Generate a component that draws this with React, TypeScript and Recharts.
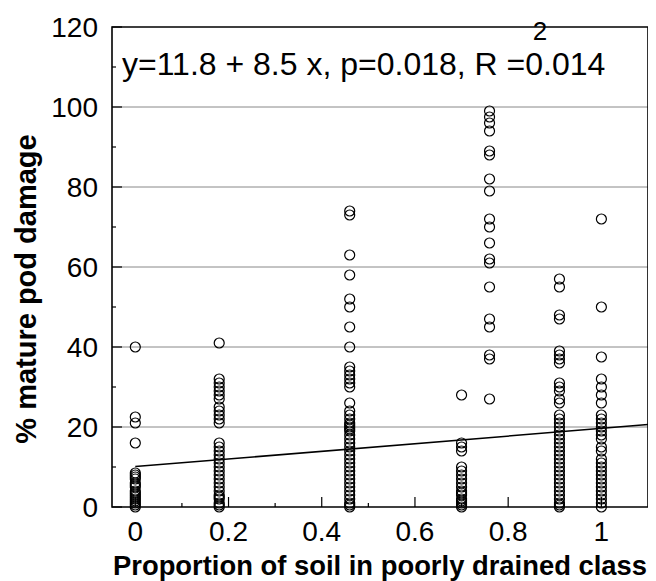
import {
  ScatterChart,
  Scatter,
  XAxis,
  YAxis,
  CartesianGrid,
  ReferenceArea,
} from "recharts";

// proportion of poorly drained soil for each sampled field group
const columnX = [0, 0.18, 0.46, 0.7, 0.76, 0.91, 1.0];

// % mature pod damage
const damageAt000 = [40, 22.5, 21, 16, 8.5, 8, 7.5, 7, 6, 5.5, 5, 4, 3.5, 3, 2.5, 2, 1.5, 1, 0.5, 0];
const damageAt018 = [41, 32, 31, 30, 29, 28, 27, 25, 24, 23, 22, 21, 16, 15, 14, 13, 12, 11, 10, 9, 8, 7, 6, 5, 4, 3, 2.5, 2, 1, 0.5, 0];
const damageAt046 = [74, 73, 63, 58, 52, 50, 45, 40, 35, 34, 33, 32, 31, 30, 26, 24, 23, 22, 21, 20.5, 20, 19.5, 19, 18, 17, 16, 15, 14, 13, 12, 11, 10, 9, 8, 7, 6, 5, 4, 3, 2, 1, 0.5, 0];
const damageAt070 = [28, 16, 15, 14, 10, 9, 8, 7, 6, 5, 4, 3.5, 3, 2, 1.5, 1, 0.5, 0];
const damageAt076 = [99, 97.5, 96, 94, 89, 88, 82, 79, 72, 70, 66, 62, 61, 55, 47, 45, 38, 37, 27];
const damageAt091 = [57, 55, 48, 47, 39, 38, 37, 36, 31, 30, 29, 27, 26, 23, 22, 21, 20, 19, 18, 17, 16, 15, 14, 13, 12, 11, 10, 9, 8, 7, 6, 5, 4, 3, 2, 1, 0.5, 0];
const damageAt100 = [72, 50, 37.5, 32, 30, 28, 26, 23, 22, 21, 20, 19, 18, 17, 15, 14, 12, 11, 10, 9, 8, 7, 6, 5, 4, 3, 2, 1, 0];

const columns = [damageAt000, damageAt018, damageAt046, damageAt070, damageAt076, damageAt091, damageAt100];

// fitted regression line, ends as drawn
const fitX = [0, 1.1];
const fitY = [10.1, 20.6];

const xTicks = [0, 0.1, 0.2, 0.3, 0.4, 0.5, 0.6, 0.7, 0.8, 0.9, 1];
const yTicks = [0, 10, 20, 30, 40, 50, 60, 70, 80, 90, 100, 110, 120];
const gridValues = [20, 40, 60, 80, 100];

const equation = "y=11.8 + 8.5 x, p=0.018, R =0.014";

const FONT = "'Liberation Sans', Arial, Helvetica, sans-serif";

const points = columns.flatMap((vals, i) => vals.map((y) => ({ x: columnX[i], y })));
const fitLine = fitX.map((x, i) => ({ x, y: fitY[i] }));

function XTick(props: any) {
  const { x, y, payload } = props;
  const v = payload.value;
  const major = Math.round(v * 10) % 2 === 0;
  return (
    <g>
      <line x1={x} x2={x} y1={y} y2={y - (major ? 10 : 4)} stroke="#000" strokeWidth={1.2} />
      {major && (
        <text x={x} y={y + 34} textAnchor="middle" fontSize={28} fontFamily={FONT} fill="#000">
          {String(Math.round(v * 10) / 10)}
        </text>
      )}
    </g>
  );
}

function YTick(props: any) {
  const { x, y, payload } = props;
  const v = payload.value;
  const major = v % 20 === 0;
  return (
    <g>
      <line x1={x} x2={x + (major ? 10 : 4)} y1={y} y2={y} stroke="#000" strokeWidth={1.2} />
      {major && (
        <text x={x - 14} y={y + 10} textAnchor="end" fontSize={28} fontFamily={FONT} fill="#000">
          {v}
        </text>
      )}
    </g>
  );
}

const ring = (p: any) => (
  <circle cx={p.cx} cy={p.cy} r={5} fill="none" stroke="#000" strokeWidth={1.2} />
);

export default function App() {
  return (
    <ScatterChart
      width={648}
      height={573}
      margin={{ top: 19, right: 8, bottom: 0, left: 0 }}
      style={{ background: "#fff" }}
    >
      <CartesianGrid horizontal vertical={false} horizontalValues={gridValues} stroke="#888" />
      <XAxis
        type="number"
        dataKey="x"
        domain={[-0.05, 1.1]}
        ticks={xTicks}
        tick={<XTick />}
        tickSize={0}
        tickMargin={0}
        tickLine={false}
        axisLine={false}
        height={74}
        interval={0}
        label={{
          content: () => (
            <text
              x={372}
              y={567}
              textAnchor="middle"
              fontSize={27}
              fontWeight="bold"
              fontFamily={FONT}
              fill="#000"
              textLength={534}
              lengthAdjust="spacingAndGlyphs"
            >
              Proportion of soil in poorly drained class
            </text>
          ),
        }}
      />
      <YAxis
        type="number"
        dataKey="y"
        domain={[0, 120]}
        ticks={yTicks}
        tick={<YTick />}
        tickSize={0}
        tickMargin={0}
        tickLine={false}
        axisLine={false}
        width={104}
        interval={0}
        label={{
          content: () => (
            <text
              x={28}
              y={281}
              transform="rotate(-90 28 281)"
              textAnchor="middle"
              fontSize={29}
              fontWeight="bold"
              fontFamily={FONT}
              fill="#000"
            >
              % mature pod damage
            </text>
          ),
        }}
      />
      <ReferenceArea
        x1={-0.05}
        x2={1.1}
        y1={0}
        y2={120}
        fill="none"
        stroke="#000"
        strokeWidth={1.6}
        fillOpacity={0}
        label={{
          content: () => (
            <g fontFamily={FONT} fill="#000">
              <text x={114} y={67} fontSize={32}>
                {equation}
              </text>
              <text x={532} y={32} fontSize={26} textAnchor="middle">
                2
              </text>
            </g>
          ),
        }}
      />
      <Scatter data={points} shape={ring} isAnimationActive={false} />
      <Scatter
        data={fitLine}
        line={{ stroke: "#000", strokeWidth: 1.5 }}
        shape={() => <g />}
        isAnimationActive={false}
      />
    </ScatterChart>
  );
}
